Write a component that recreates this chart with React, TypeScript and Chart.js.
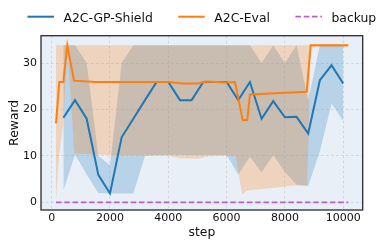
import React, { useEffect, useRef } from 'react';
import { Chart, registerables } from 'chart.js';

// ---------------- data ----------------
const shieldSteps = [400, 800, 1200, 1600, 2000, 2400, 2800, 3200, 3600, 4000, 4400, 4800, 5200, 5600, 6000, 6400, 6800, 7200, 7600, 8000, 8400, 8800, 9200, 9600, 10000];
const shieldMean = [18.2, 22.0, 18.0, 5.9, 1.9, 14.0, 18.0, 22.0, 25.9, 25.9, 22.0, 22.0, 25.9, 25.9, 25.9, 22.0, 25.9, 18.0, 21.8, 18.3, 18.4, 14.8, 26.3, 29.5, 25.6];
const shieldHigh = [33.8, 33.8, 30.0, 10.0, 8.0, 30.0, 33.8, 33.8, 33.8, 33.8, 33.8, 33.8, 33.8, 33.8, 33.8, 33.8, 33.8, 30.0, 33.8, 30.0, 33.8, 22.0, 33.8, 33.8, 33.8];
const shieldLow = [2.5, 10.3, 6.0, 2.0, 1.9, 1.9, 1.9, 10.0, 10.2, 10.2, 10.2, 10.2, 10.2, 10.2, 10.2, 6.0, 9.8, 6.4, 10.2, 6.5, 3.8, 3.5, 11.0, 21.3, 17.5];

const evalSteps = [147, 261, 398, 535, 765, 1500, 3000, 4000, 4500, 5000, 5300, 6000, 6290, 6550, 6710, 6800, 8747, 8884, 10173];
const evalMean = [17.0, 25.9, 25.9, 33.8, 26.2, 25.9, 25.9, 25.9, 25.6, 25.6, 26.0, 25.8, 25.9, 17.7, 17.7, 23.2, 23.8, 33.8, 33.8];

const evalBandSteps = [147, 261, 398, 540, 776, 2000, 4000, 4400, 5000, 5400, 6310, 6537, 6688, 6800, 7500, 8300, 8767, 8884, 10173];
const evalHigh = [33.8, 33.8, 33.8, 33.8, 33.8, 33.8, 33.8, 33.8, 33.8, 33.8, 33.8, 33.8, 33.8, 33.8, 33.8, 33.8, 33.8, 33.8, 33.8];
const evalLow = [0.5, 10.5, 17.0, 33.6, 10.5, 10.2, 10.0, 9.5, 9.4, 9.9, 10.0, 1.6, 2.5, 2.6, 3.0, 3.6, 3.6, 33.4, 33.4];

const backupSteps = [147, 10173];
const backupValues = [0, 0];

const seriesLabels = ['A2C-GP-Shield', 'A2C-Eval', 'backup'];
const xTickLabels = ['0', '2000', '4000', '6000', '8000', '10000'];
const yTickLabels = ['0', '10', '20', '30'];

// ---------------- style ----------------
const BLUE = '#1f77b4';
const ORANGE = '#ff7f0e';
const PURPLE = '#c05cc6';
const PLOT_BG = 'rgb(233,239,247)';
const TEXT = '#111111';
const FONT = '"DejaVu Sans", sans-serif';
const GRID = 'rgba(150,150,150,0.35)';

const pts = (xs: number[], ys: number[]) => xs.map((x, i) => ({ x, y: ys[i] }));

const bgPlugin = {
  id: 'plotBackground',
  beforeDraw(chart: any) {
    const a = chart.chartArea;
    if (!a) return;
    const ctx = chart.ctx;
    ctx.save();
    ctx.fillStyle = PLOT_BG;
    ctx.fillRect(a.left, a.top, a.right - a.left, a.bottom - a.top);
    ctx.restore();
  },
};
Chart.register(bgPlugin);
Chart.register(...registerables);

const framePlugin = {
  id: 'frame',
  afterDatasetsDraw(chart: any) {
    const a = chart.chartArea;
    const ctx = chart.ctx;
    ctx.save();
    ctx.strokeStyle = '#2b2b2b';
    ctx.lineWidth = 1.3;
    ctx.strokeRect(a.left, a.top, a.right - a.left, a.bottom - a.top);
    ctx.restore();
  },
};

const legendPlugin = {
  id: 'lineLegend',
  afterDraw(chart: any) {
    const ctx = chart.ctx;
    const a = chart.chartArea;
    const items = chart.data.datasets.slice(0, 3);
    const LINE = 26.5, GAP = 9.5, SPACE = 25.5, LINE_Y = 16.7, BASE_Y = 21.6;
    ctx.save();
    ctx.font = `12.4px ${FONT}`;
    const widths = items.map((d: any) => ctx.measureText(d.label).width);
    const total = items.length * (LINE + GAP) + widths.reduce((s: number, w: number) => s + w, 0) + (items.length - 1) * SPACE;
    let x = (a.left + a.right) / 2 - total / 2;
    items.forEach((d: any, i: number) => {
      ctx.strokeStyle = d.borderColor;
      ctx.lineWidth = d.borderWidth;
      ctx.setLineDash(d.borderDash || []);
      ctx.beginPath();
      ctx.moveTo(x, LINE_Y);
      ctx.lineTo(x + LINE, LINE_Y);
      ctx.stroke();
      ctx.setLineDash([]);
      ctx.fillStyle = TEXT;
      ctx.textAlign = 'left';
      ctx.textBaseline = 'alphabetic';
      ctx.fillText(d.label, x + LINE + GAP, BASE_Y);
      x += LINE + GAP + widths[i] + SPACE;
    });
    ctx.restore();
  },
};

export default function App() {
  const ref = useRef<HTMLCanvasElement | null>(null);
  useEffect(() => {
    if (!ref.current) return;
    Chart.defaults.font.family = FONT;
    const band = { borderColor: 'rgba(0,0,0,0)', borderWidth: 0, pointRadius: 0, tension: 0 };
    const chart = new Chart(ref.current, {
      type: 'line',
      data: {
        datasets: [
          { label: seriesLabels[0], data: pts(shieldSteps, shieldMean), borderColor: BLUE, borderWidth: 2, pointRadius: 0, tension: 0, fill: false, order: 1 },
          { label: seriesLabels[1], data: pts(evalSteps, evalMean), borderColor: ORANGE, borderWidth: 2, pointRadius: 0, tension: 0, fill: false, order: 0 },
          { label: seriesLabels[2], data: pts(backupSteps, backupValues), borderColor: PURPLE, borderWidth: 1.8, borderDash: [5.5, 2.8], pointRadius: 0, fill: false, order: 2 },
          { label: 'evalHigh', data: pts(evalBandSteps, evalHigh), ...band, fill: false, order: 3 },
          { label: 'evalLow', data: pts(evalBandSteps, evalLow), ...band, fill: '-1', backgroundColor: 'rgba(255,127,14,0.24)', order: 4 },
          { label: 'shieldHigh', data: pts(shieldSteps, shieldHigh), ...band, fill: false, order: 5 },
          { label: 'shieldLow', data: pts(shieldSteps, shieldLow), ...band, fill: '-1', backgroundColor: 'rgba(31,119,180,0.24)', order: 6 },
        ] as any,
      },
      options: {
        animation: false,
        responsive: false,
        devicePixelRatio: 1,
        events: [],
        layout: { padding: { top: 35.7, right: 26.3, bottom: 0, left: 0 } },
        plugins: {
          legend: { display: false },
          tooltip: { enabled: false },
          filler: { drawTime: 'beforeDraw' },
        } as any,
        scales: {
          x: {
            type: 'linear',
            min: -367,
            max: 10669,
            afterFit: (s: any) => { s.height = 38; },
            afterBuildTicks: (s: any) => { s.ticks = xTickLabels.map((t) => ({ value: Number(t) })); },
            ticks: { stepSize: 2000, includeBounds: false, color: TEXT, font: { size: 11 }, padding: 2, maxRotation: 0, autoSkip: false, callback: (v: any) => String(v) },
            grid: { color: GRID, lineWidth: 0.8, drawTicks: false },
            border: { display: false, dash: [2.5, 2.5] },
            title: { display: true, text: 'step', color: TEXT, font: { size: 12.4 }, padding: { top: 0, bottom: 7.8 } },
          },
          y: {
            type: 'linear',
            min: -1.66,
            max: 35.88,
            afterFit: (s: any) => { s.width = 41; },
            afterBuildTicks: (s: any) => { s.ticks = yTickLabels.map((t) => ({ value: Number(t) })); },
            ticks: { stepSize: 10, includeBounds: false, color: TEXT, font: { size: 11 }, padding: 4, callback: (v: any) => String(v) },
            grid: { color: GRID, lineWidth: 0.8, drawTicks: false },
            border: { display: false, dash: [2.5, 2.5] },
            title: { display: true, text: 'Reward', color: TEXT, font: { size: 12.4 }, padding: { top: 7, bottom: 0 } },
          },
        } as any,
      },
      plugins: [framePlugin, legendPlugin],
    });
    return () => chart.destroy();
  }, []);
  return (
    <div style={{ position: 'fixed', left: 0, top: 0, width: 389, height: 248 }}>
      <canvas ref={ref} width={389} height={248} style={{ display: 'block' }} />
    </div>
  );
}
